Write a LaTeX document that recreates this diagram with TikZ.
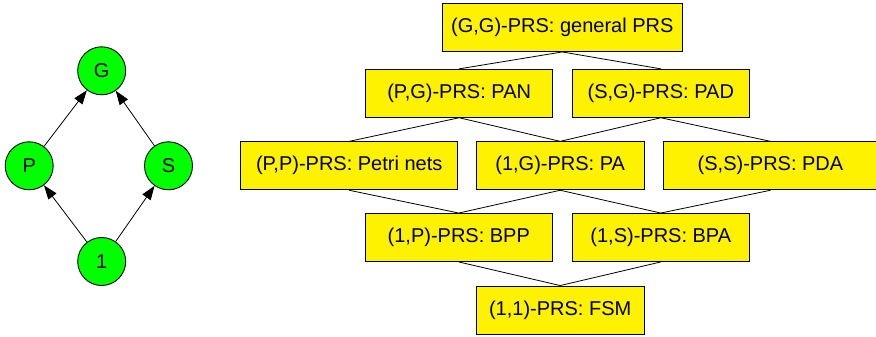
\documentclass[tikz,border=0pt]{standalone}
\usepackage{fontspec}
\setmainfont{Liberation Sans}
\usetikzlibrary{arrows.meta}
\begin{document}
\begin{tikzpicture}[x=1pt,y=-1pt,
  state/.style={circle,draw=black,line width=0.9pt,fill=green,minimum size=48pt,inner sep=0pt,font=\fontsize{20}{24}\selectfont},
  prs/.style={rectangle,draw=black,line width=0.9pt,fill=yellow,minimum height=48pt,inner sep=0pt,font=\fontsize{20}{24}\selectfont},
  arr/.style={line width=0.8pt,-{Triangle[length=14pt,width=10pt]}},
  ln/.style={line width=0.8pt}]
\useasboundingbox (0,0) rectangle (876,337);
% left lattice
\node[state] (G) at (101.7,70.8) {G};
\node[state] (P) at (29.2,165.8) {P};
\node[state] (S) at (168.5,165.8) {S};
\node[state] (one) at (101.7,261.5) {1};
\draw[arr] (P) -- (G);
\draw[arr] (S) -- (G);
\draw[arr] (one) -- (P);
\draw[arr] (one) -- (S);
% right lattice
\node[prs,minimum width=240pt] (GG) at (562.3,27.5) {(G,G)-PRS: general PRS};
\node[prs,minimum width=187pt] (PG) at (459.2,93.3) {(P,G)-PRS: PAN};
\node[prs,minimum width=177pt] (SG) at (660.8,93.3) {(S,G)-PRS: PAD};
\node[prs,minimum width=217pt] (PP) at (349.2,165.8) {(P,P)-PRS: Petri nets};
\node[prs,minimum width=168pt] (OG) at (560.2,165.8) {(1,G)-PRS: PA};
\node[prs,minimum width=215pt] (SS) at (770.5,165.8) {(S,S)-PRS: PDA};
\node[prs,minimum width=187pt] (OP) at (458.8,237.5) {(1,P)-PRS: BPP};
\node[prs,minimum width=177pt] (OS) at (660.8,237.5) {(1,S)-PRS: BPA};
\node[prs,minimum width=168pt] (OO) at (560.2,310) {(1,1)-PRS: FSM};
\draw[ln] (GG.south) -- (PG.north);
\draw[ln] (GG.south) -- (SG.north);
\draw[ln] (PG.south) -- (PP.north);
\draw[ln] (PG.south) -- (OG.north);
\draw[ln] (SG.south) -- (OG.north);
\draw[ln] (SG.south) -- (SS.north);
\draw[ln] (PP.south) -- (OP.north);
\draw[ln] (OG.south) -- (OP.north);
\draw[ln] (OG.south) -- (OS.north);
\draw[ln] (SS.south) -- (OS.north);
\draw[ln] (OP.south) -- (OO.north);
\draw[ln] (OS.south) -- (OO.north);
\end{tikzpicture}
\end{document}
